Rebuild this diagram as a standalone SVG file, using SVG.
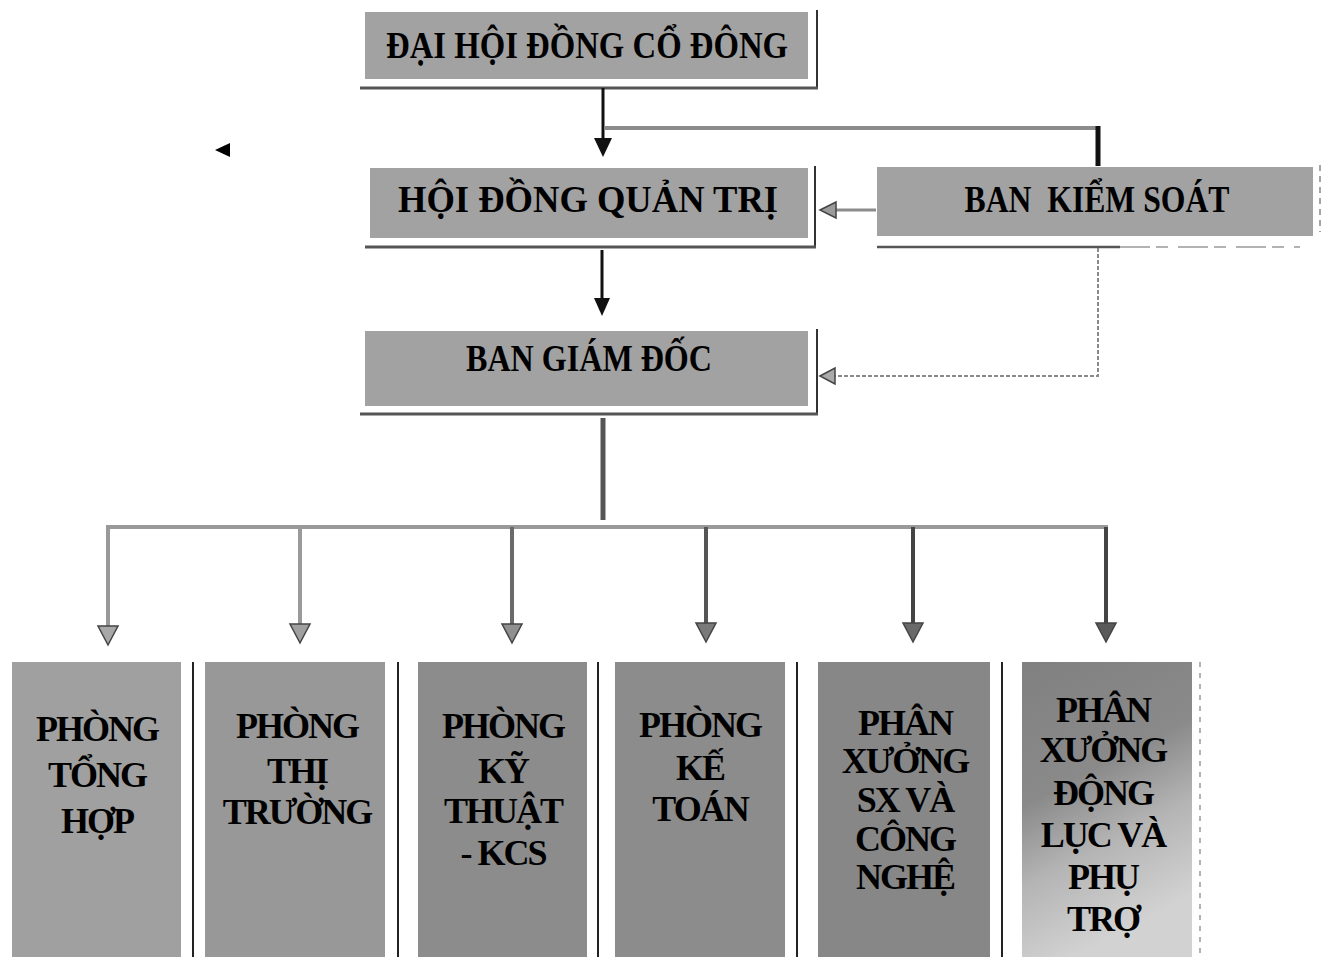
<svg xmlns="http://www.w3.org/2000/svg" width="1331" height="957" viewBox="0 0 1331 957">
<style>
.bg{fill:#ffffff}
.top{fill:#a2a2a2}
.sh{stroke:#333;stroke-width:2;fill:none}
.shb{stroke:#555;stroke-width:3;fill:none}
.t{font-family:"Liberation Serif","Times New Roman",serif;font-weight:bold;font-size:38px;fill:#000;text-anchor:middle}
.b{font-family:"Liberation Serif","Times New Roman",serif;font-weight:bold;font-size:36px;fill:#000;text-anchor:middle;letter-spacing:-2px}
.sep{stroke:#222;stroke-width:2}
.blk{stroke:#111;stroke-width:3;fill:none}
.gry{stroke:#8c8c8c;stroke-width:4;fill:none}
.ah{stroke:#444;stroke-width:1.5}
</style>
<defs>
<linearGradient id="g6" x1="0" y1="0" x2="0.3" y2="1">
<stop offset="0" stop-color="#808080"/>
<stop offset="0.45" stop-color="#8a8a8a"/>
<stop offset="0.7" stop-color="#b4b4b4"/>
<stop offset="1" stop-color="#d2d2d2"/>
</linearGradient>
</defs>
<rect class="bg" x="0" y="0" width="1331" height="957"/>

<g id="dhdcd">
<rect class="top" x="365" y="12" width="443" height="67"/>
<path class="sh" d="M817 10 V88"/>
<path class="shb" d="M360 88 H818"/>
<text class="t" x="587" y="58" textLength="402" lengthAdjust="spacingAndGlyphs">ĐẠI HỘI ĐỒNG CỔ ĐÔNG</text>
</g>

<g id="hdqt">
<rect class="top" x="370" y="168" width="438" height="70"/>
<path class="sh" d="M815 166 V247"/>
<path class="shb" d="M365 247 H816"/>
<text class="t" x="588" y="212" textLength="380" lengthAdjust="spacingAndGlyphs">HỘI ĐỒNG QUẢN TRỊ</text>
</g>

<g id="bks">
<rect class="top" x="877" y="167" width="436" height="69"/>
<path stroke="#888" stroke-width="1.5" stroke-dasharray="6 5" d="M1320 165 V232"/>
<path stroke="#555" stroke-width="2.5" d="M877 247 H1120"/>
<path stroke="#999" stroke-width="1.5" stroke-dasharray="30 6 12 10" d="M1120 247 H1300"/>
<text class="t" x="1097" y="212" textLength="265" lengthAdjust="spacingAndGlyphs" style="white-space:pre">BAN  KIỂM SOÁT</text>
</g>

<g id="bgd">
<rect class="top" x="365" y="331" width="443" height="75"/>
<path class="sh" d="M817 329 V414"/>
<path class="shb" d="M360 414 H818"/>
<text class="t" x="589" y="371" textLength="246" lengthAdjust="spacingAndGlyphs">BAN GIÁM ĐỐC</text>
</g>

<g id="p1">
<rect x="12" y="662" width="169" height="295" fill="#a0a0a0"/>
<path class="sep" d="M193 662 V957"/>
<text class="b" x="97"><tspan x="97" y="741">PHÒNG</tspan><tspan x="97" y="787">TỔNG</tspan><tspan x="97" y="833">HỢP</tspan></text>
</g>
<g id="p2">
<rect x="205" y="662" width="180" height="295" fill="#989898"/>
<path class="sep" d="M398 662 V957"/>
<text class="b" x="297"><tspan x="297" y="738">PHÒNG</tspan><tspan x="297" y="783">THỊ</tspan><tspan x="297" y="824">TRƯỜNG</tspan></text>
</g>
<g id="p3">
<rect x="418" y="662" width="169" height="295" fill="#8c8c8c"/>
<path class="sep" d="M598 662 V957"/>
<text class="b" x="503"><tspan x="503" y="738">PHÒNG</tspan><tspan x="503" y="783">KỸ</tspan><tspan x="503" y="823">THUẬT</tspan><tspan x="503" y="865">- KCS</tspan></text>
</g>
<g id="p4">
<rect x="615" y="662" width="170" height="295" fill="#8c8c8c"/>
<path class="sep" d="M797 662 V957"/>
<text class="b" x="700"><tspan x="700" y="737">PHÒNG</tspan><tspan x="700" y="780">KẾ</tspan><tspan x="700" y="821">TOÁN</tspan></text>
</g>
<g id="p5">
<rect x="818" y="662" width="172" height="295" fill="#878787"/>
<path class="sep" d="M1002 662 V957"/>
<text class="b" x="905"><tspan x="905" y="735">PHÂN</tspan><tspan x="905" y="773">XƯỞNG</tspan><tspan x="905" y="812">SX VÀ</tspan><tspan x="905" y="851">CÔNG</tspan><tspan x="905" y="889">NGHỆ</tspan></text>
</g>
<g id="p6">
<rect x="1022" y="662" width="170" height="295" fill="url(#g6)"/>
<path stroke="#999" stroke-width="1.5" stroke-dasharray="5 6" d="M1200 662 V957"/>
<text class="b" x="1103"><tspan x="1103" y="722">PHÂN</tspan><tspan x="1103" y="762">XƯỞNG</tspan><tspan x="1103" y="805">ĐỘNG</tspan><tspan x="1103" y="847">LỤC VÀ</tspan><tspan x="1103" y="889">PHỤ</tspan><tspan x="1103" y="931">TRỢ</tspan></text>
</g>

<g id="mark">
<polygon points="215,150 230,143 230,157" fill="#000"/>
</g>

<g id="connectors">
<path class="blk" d="M603 88 V140"/>
<polygon points="594,138 612,138 603,157" fill="#111"/>
<path class="gry" d="M605 128 H1098"/>
<path stroke="#111" stroke-width="5" fill="none" d="M1098 126 V166"/>
<path stroke="#8c8c8c" stroke-width="3" d="M876 210 H834"/>
<polygon class="ah" points="820,210 836,202 836,218" fill="#9a9a9a"/>
<path class="blk" d="M602 250 V300"/>
<polygon points="594,298 610,298 602,316" fill="#111"/>
<path stroke="#8a8a8a" stroke-width="2" stroke-dasharray="4 2" fill="none" d="M1098 248 V376 H834"/>
<polygon class="ah" points="820,376 835,368 835,384" fill="#aaa"/>
<path stroke="#555" stroke-width="5" fill="none" d="M603 418 V520"/>
<path stroke="#999" stroke-width="4" fill="none" d="M108 630 V527 H1106 V630"/>
<path stroke="#9a9a9a" stroke-width="4" d="M300 527 V630"/>
<path stroke="#6a6a6a" stroke-width="4" d="M512 527 V630"/>
<path stroke="#555" stroke-width="4" d="M706 527 V630"/>
<path stroke="#444" stroke-width="4" d="M913 527 V630"/>
<path stroke="#444" stroke-width="4" d="M1106 527 V630"/>
<polygon class="ah" points="98,626 118,626 108,645" fill="#a8a8a8"/>
<polygon class="ah" points="290,624 310,624 300,643" fill="#a0a0a0"/>
<polygon class="ah" points="502,624 522,624 512,643" fill="#909090"/>
<polygon class="ah" points="696,623 716,623 706,642" fill="#7a7a7a"/>
<polygon class="ah" points="903,623 923,623 913,642" fill="#6a6a6a"/>
<polygon class="ah" points="1096,623 1116,623 1106,642" fill="#5a5a5a"/>
</g>
</svg>
